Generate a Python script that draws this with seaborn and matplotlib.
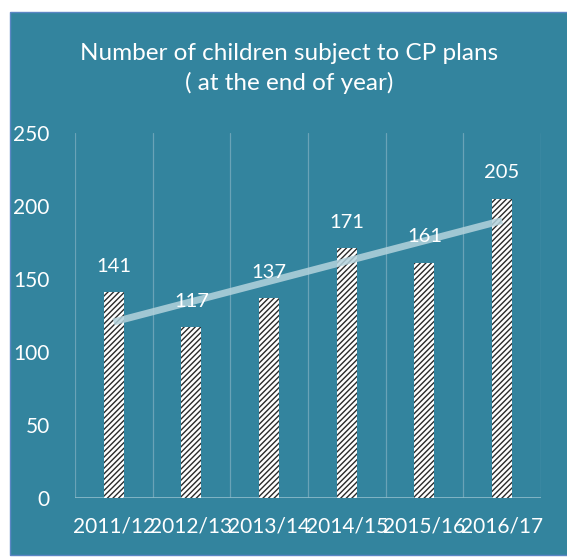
import numpy as np
import pandas as pd
import seaborn as sns
import matplotlib.pyplot as plt
from matplotlib.patches import Rectangle

# ---------------- DATA ----------------
years = ["2011/12", "2012/13", "2013/14", "2014/15", "2015/16", "2016/17"]
children = [141, 117, 137, 171, 161, 205]

df = pd.DataFrame({"year": years, "children": children})

# ---------------- STYLE ----------------
TEAL = "#33849e"
GRID = "#6aa3b7"
sns.set_style("white")
plt.rcParams["font.family"] = ["Lato", "DejaVu Sans"]
plt.rcParams["hatch.linewidth"] = 1.0
plt.rcParams["hatch.color"] = "#2a2a2a"

fig = plt.figure(figsize=(5.67, 5.59), dpi=100, facecolor="white")
bg = Rectangle((0.018, 0.008), 0.99, 0.971, transform=fig.transFigure,
               facecolor=TEAL, edgecolor="#5b86c4", linewidth=1.0, zorder=-10)
fig.add_artist(bg)

ax = fig.add_axes([0.132, 0.109, 0.822, 0.653])
ax.set_facecolor("none")

sns.barplot(data=df, x="year", y="children", color="white", width=0.26,
            saturation=1, ax=ax, zorder=3)
for p in ax.patches:
    p.set_hatch("//////")
    p.set_edgecolor("#2a2a2a")
    p.set_linewidth(0)

# linear trendline
xs = np.arange(len(children))
k, b = np.polyfit(xs, children, 1)
ax.plot([0, len(children) - 1], [b, k * (len(children) - 1) + b],
        color="#b4d3dd", linewidth=5, alpha=0.85, zorder=4, solid_capstyle="butt")

# value labels
for i, v in enumerate(children):
    ax.text(i, v + 12, str(v), ha="center", va="bottom", color="white",
            fontsize=14.5, zorder=5)

# vertical gridlines at category boundaries
for xb in np.arange(-0.5, len(children), 1.0):
    ax.axvline(xb, color=GRID, linewidth=0.9, zorder=1)
ax.axhline(0, color="#8fbccb", linewidth=1.2, zorder=2)

ax.set_xlim(-0.5, len(children) - 0.5)
ax.set_ylim(0, 250)
ax.set_yticks(range(0, 251, 50))
sns.despine(ax=ax, left=True, bottom=True)
ax.tick_params(axis="y", length=0, pad=18, labelsize=15, labelcolor="white")
ax.tick_params(axis="x", length=0, pad=13, labelsize=15, labelcolor="white")
ax.set_xlabel("")
ax.set_ylabel("")

fig.text(0.51, 0.905, "Number of children subject to CP plans", ha="center",
         va="center", color="white", fontsize=17.5)
fig.text(0.51, 0.852, "( at the end of year)", ha="center", va="center",
         color="white", fontsize=17.5)

plt.savefig("out.png", dpi=100, facecolor="white")
